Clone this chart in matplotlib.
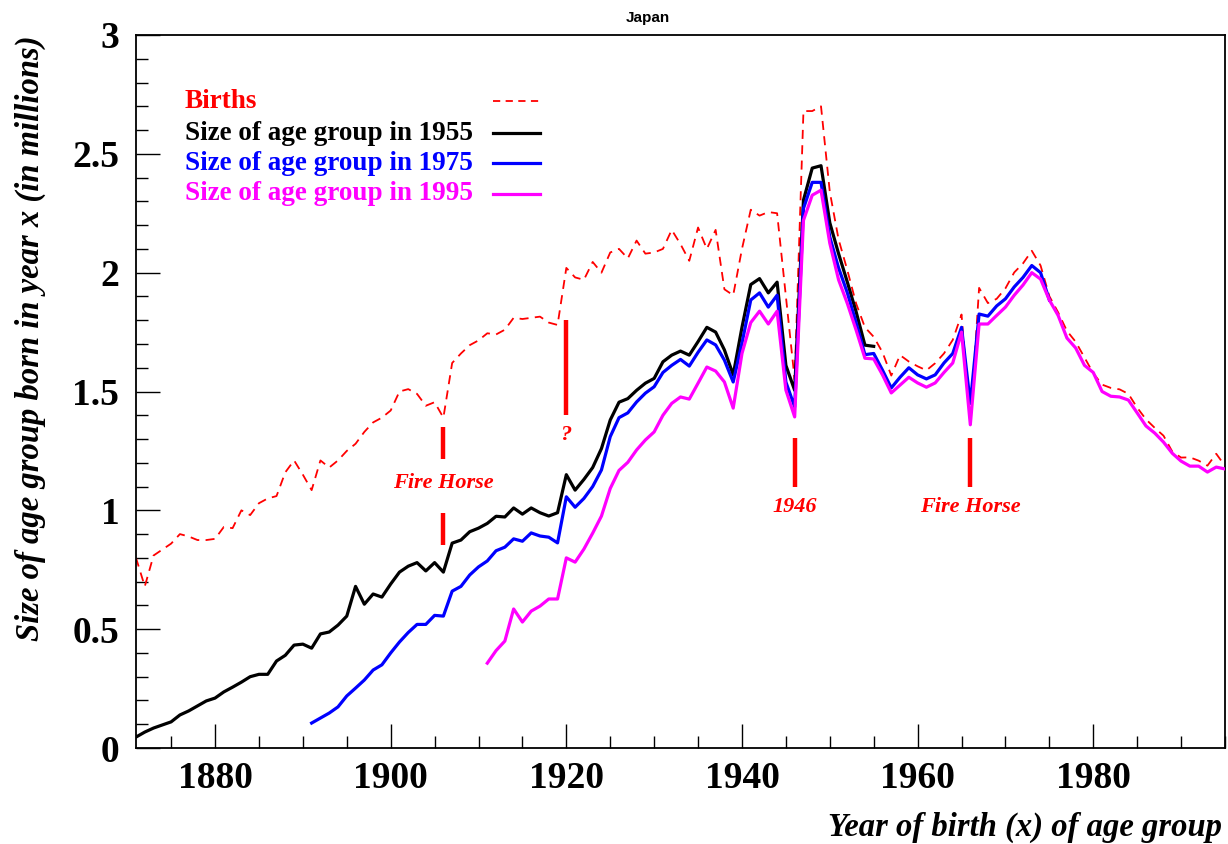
import numpy as np
import matplotlib
matplotlib.use("Agg")
import matplotlib.pyplot as plt
from matplotlib.ticker import MultipleLocator

# ---------------- data (millions) ----------------
births_start = 1871
births = [0.80, 0.68, 0.81, 0.835, 0.86, 0.90, 0.89, 0.875, 0.875, 0.88,
          0.93, 0.925, 1.00, 0.98, 1.03, 1.05, 1.06, 1.16, 1.21, 1.15,
          1.085, 1.21, 1.18, 1.21, 1.25, 1.28, 1.33, 1.37, 1.39, 1.42,
          1.50, 1.51, 1.49, 1.44, 1.455, 1.39, 1.62, 1.66, 1.695, 1.715,
          1.745, 1.74, 1.76, 1.81, 1.805, 1.81, 1.815, 1.79, 1.78, 2.02,
          1.98, 1.97, 2.045, 2.00, 2.085, 2.10, 2.06, 2.135, 2.08, 2.085,
          2.10, 2.18, 2.12, 2.05, 2.19, 2.10, 2.18, 1.93, 1.905, 2.10,
          2.265, 2.24, 2.255, 2.25, 1.90, 1.55, 2.68, 2.68, 2.70, 2.34,
          2.14, 2.01, 1.87, 1.77, 1.73, 1.665, 1.567, 1.653, 1.626, 1.606,
          1.589, 1.619, 1.660, 1.717, 1.824, 1.361, 1.936, 1.872, 1.890, 1.934,
          2.001, 2.039, 2.092, 2.030, 1.901, 1.833, 1.755, 1.709, 1.643, 1.577,
          1.529, 1.515, 1.509, 1.490, 1.432, 1.383, 1.347, 1.314, 1.247, 1.222,
          1.223, 1.209, 1.188, 1.238, 1.187]

size1955_start = 1871
size1955 = [0.046, 0.067, 0.084, 0.097, 0.11, 0.139, 0.156, 0.177, 0.198, 0.21,
            0.236, 0.256, 0.277, 0.30, 0.31, 0.31, 0.366, 0.39, 0.433, 0.437,
            0.42, 0.48, 0.488, 0.517, 0.555, 0.68, 0.605, 0.648, 0.635, 0.69,
            0.74, 0.765, 0.78, 0.745, 0.78, 0.74, 0.862, 0.875, 0.91, 0.925,
            0.945, 0.975, 0.972, 1.01, 0.984, 1.01, 0.99, 0.976, 0.99, 1.15,
            1.085, 1.13, 1.18, 1.26, 1.38, 1.455, 1.47, 1.505, 1.535, 1.555,
            1.625, 1.653, 1.67, 1.653, 1.71, 1.77, 1.75, 1.675, 1.57, 1.77,
            1.95, 1.975, 1.915, 1.96, 1.61, 1.505, 2.305, 2.44, 2.45, 2.21,
            2.08, 1.96, 1.835, 1.695, 1.69]

size1975_start = 1891
size1975 = [0.105, 0.126, 0.147, 0.173, 0.219, 0.252, 0.286, 0.328, 0.35, 0.40,
            0.446, 0.486, 0.52, 0.52, 0.558, 0.555, 0.66, 0.68, 0.728, 0.762,
            0.787, 0.83, 0.845, 0.88, 0.87, 0.905, 0.892, 0.887, 0.863, 1.057,
            1.013, 1.05, 1.10, 1.17, 1.31, 1.39, 1.41, 1.456, 1.493, 1.52,
            1.58, 1.61, 1.635, 1.607, 1.665, 1.717, 1.696, 1.632, 1.54, 1.704,
            1.885, 1.915, 1.855, 1.905, 1.54, 1.435, 2.27, 2.38, 2.38, 2.15,
            2.02, 1.915, 1.79, 1.655, 1.66, 1.59, 1.515, 1.56, 1.60, 1.57,
            1.553, 1.57, 1.62, 1.66, 1.77, 1.45, 1.826, 1.817, 1.86, 1.89,
            1.94, 1.98, 2.03, 2.00, 1.885]

size1995_start = 1911
size1995 = [0.357, 0.41, 0.45, 0.585, 0.53, 0.576, 0.597, 0.627, 0.627, 0.80,
            0.782, 0.837, 0.904, 0.976, 1.092, 1.168, 1.202, 1.254, 1.296, 1.33,
            1.40, 1.45, 1.477, 1.468, 1.535, 1.603, 1.586, 1.54, 1.43, 1.66,
            1.79, 1.838, 1.784, 1.838, 1.506, 1.393, 2.22, 2.326, 2.347, 2.124,
            1.97, 1.87, 1.758, 1.64, 1.637, 1.57, 1.494, 1.527, 1.56, 1.536,
            1.518, 1.536, 1.58, 1.62, 1.75, 1.36, 1.784, 1.784, 1.82, 1.855,
            1.905, 1.948, 2.00, 1.973, 1.885, 1.82, 1.725, 1.683, 1.61, 1.58,
            1.50, 1.48, 1.477, 1.464, 1.41, 1.355, 1.325, 1.287, 1.24, 1.207,
            1.186, 1.186, 1.161, 1.182, 1.174]

series_labels = ["Births", "Size of age group in 1955",
                 "Size of age group in 1975", "Size of age group in 1995"]

# annotations: (year, bar segments (y0,y1), label, label y)
annotations = [
    (1906, [(1.215, 1.35), (0.855, 0.99)], "Fire Horse", 1.115),
    (1920, [(1.40, 1.80)], "?", 1.315),
    (1946, [(1.10, 1.305)], "1946", 1.015),
    (1966, [(1.10, 1.305)], "Fire Horse", 1.015),
]

# ---------------- figure ----------------
W, H = 1228, 844
fig = plt.figure(figsize=(W / 100, H / 100), dpi=100)
ax = fig.add_axes([136 / W, 1 - 748 / H, (1225 - 136) / W, (748 - 35) / H])

serif = "Liberation Serif"
sans = "Liberation Sans"

def yrs(start, vals):
    return np.arange(start, start + len(vals))

ax.plot(yrs(births_start, births), births, color="#ff0000", lw=1.3,
        dashes=(5, 3.5), zorder=2)
ax.plot(yrs(size1955_start, size1955), size1955, color="black", lw=2.3, zorder=3)
ax.plot(yrs(size1975_start, size1975), size1975, color="#0000ff", lw=2.3, zorder=4)
ax.plot(yrs(size1995_start, size1995), size1995, color="#ff00ff", lw=2.3, zorder=5)

for yr, segs, lab, ly in annotations:
    for y0, y1 in segs:
        ax.plot([yr, yr], [y0, y1], color="#ff0000", lw=3.2, solid_capstyle="butt", zorder=6)
    ax.text(yr, ly, lab, color="#ff0000", fontsize=16, fontweight="bold",
            fontstyle="italic", family=serif, ha="center", va="center", zorder=6)

ax.set_xlim(1871, 1995)
ax.set_ylim(0, 3)

ax.xaxis.set_major_locator(MultipleLocator(20))
ax.xaxis.set_minor_locator(MultipleLocator(5))
ax.yaxis.set_major_locator(MultipleLocator(0.5))
ax.yaxis.set_minor_locator(MultipleLocator(0.1))
ax.tick_params(which="both", direction="in", top=False, right=False, width=1.0, color="black")
ax.tick_params(which="major", length=17.5)
ax.tick_params(which="minor", length=8.5)
ax.tick_params(axis="x", which="major", pad=9)
ax.tick_params(axis="y", which="major", pad=12)

def yfmt(v, pos):
    return "0" if abs(v) < 1e-9 else ("%g" % v)
ax.yaxis.set_major_formatter(matplotlib.ticker.FuncFormatter(yfmt))

for lbl in ax.get_xticklabels() + ax.get_yticklabels():
    lbl.set_fontfamily(serif)
    lbl.set_fontweight("bold")
    lbl.set_fontsize(27)

for sp in ax.spines.values():
    sp.set_linewidth(1.3)
    sp.set_color("black")

# axis titles
fig.text(30 / W, 1 - 35 / H, "Size of age group born in year x (in millions)",
         rotation=90, ha="center", va="top", fontsize=23.5, fontweight="bold",
         fontstyle="italic", family=serif)
fig.text(1222 / W, 1 - 827 / H, "Year of birth (x) of age group",
         ha="right", va="center", fontsize=23.5, fontweight="bold",
         fontstyle="italic", family=serif)
fig.text(648 / W, 1 - 18 / H, "Japan", ha="center", va="center", fontsize=11,
         fontweight="bold", family=sans)

# legend (manual)
leg_colors = ["#ff0000", "black", "#0000ff", "#ff00ff"]
leg_y = [101, 133, 163, 194]
for lab, col, py, i in zip(series_labels, leg_colors, leg_y, range(4)):
    yf = 1 - py / H
    fig.text(185 / W, yf, lab, color=col, fontsize=19.5, fontweight="bold",
             family=serif, ha="left", va="center")
    if i == 0:
        fig.add_artist(plt.Line2D([493 / W, 540 / W], [yf, yf], color=col, lw=1.3,
                                  dashes=(4, 3), transform=fig.transFigure))
    else:
        fig.add_artist(plt.Line2D([493 / W, 540 / W], [yf, yf], color=col, lw=2.3,
                                  transform=fig.transFigure))

fig.savefig("out.png", dpi=100)
